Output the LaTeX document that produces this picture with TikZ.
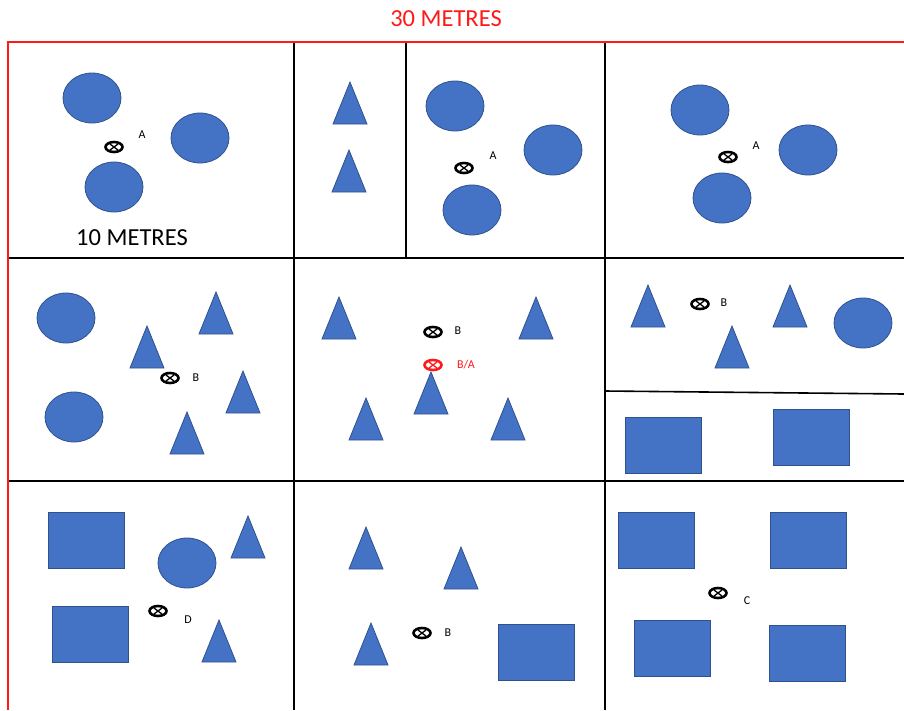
\documentclass[tikz,border=0pt]{standalone}
\usepackage{fontspec}
\setmainfont{Carlito}
\usepackage{tikz}

\definecolor{plotblue}{HTML}{4472C4}
\definecolor{plotedge}{HTML}{2F528F}
\definecolor{plotred}{HTML}{FF1A1A}

\tikzset{
    item/.style={fill=plotblue, draw=plotedge, line width=0.8pt},
    border/.style={plotred, line width=2.8pt},
    wall/.style={black, line width=1.6pt},
    marker/.style={line width=2.6pt},
    tag/.style={font=\fontsize{12}{12}\selectfont, inner sep=0pt},
    bigtext/.style={font=\fontsize{24.5}{24.5}\selectfont, inner sep=0pt}
}

\begin{document}
\begin{tikzpicture}[x=1pt, y=-1pt]

        \useasboundingbox (0,0) rectangle (904,710);

        % Draw grid
        \draw[wall] (294,42) -- (294,710);
        \draw[wall] (605,42) -- (605,710);
        \draw[wall] (406,42) -- (406,258);
        \draw[wall] (8,258) -- (904,258);
        \draw[wall] (8,481) -- (904,481);
        \draw[wall] (605,391) -- (904,394);

        % Outer edges (red)
        \draw[border] (8,710) -- (8,42) -- (904,42);

        % Scale labels
        \node[bigtext, text=plotred] (top) at (446,19) {30 METRES};
        \node[bigtext] (side) at (132,238) {10 METRES};

        % Circles
        \foreach \x/\y in {92/98, 200/138, 114/187, 455/106, 553/150, 472/210,
                           700/110, 808/150, 722/198, 66/318, 74/417, 863/323, 187/563}
            \filldraw[item] (\x,\y) ellipse (29 and 25);

        % Triangles
        \foreach \x/\y in {350/103, 349/171, 216/313, 147/347, 243/392, 187/433,
                           339/318, 536/318, 431/393, 366/419, 508/419,
                           648/306, 790/306, 732/347, 248/537, 219/641,
                           366/548, 461/568, 371/644}
            \filldraw[item] (\x-17,\y+21) -- (\x+17,\y+21) -- (\x,\y-21) -- cycle;

        % Rectangles
        \foreach \x/\y in {663/445, 811/437, 86/540, 90/634, 536/652,
                           656/540, 808/540, 672/648, 807/653}
            \filldraw[item] (\x-38,\y-28) rectangle (\x+38,\y+28);

        % Sampling points
        \foreach \x/\y/\lx/\ly/\l/\c [count=\i] in {114/147/142/135/A/black, 464/168/493/156/A/black,
                           728/157/756/146/A/black, 170/378/196/378/B/black,
                           433/332/458/331/B/black, 433/365/466/365/{B/A}/plotred,
                           700/304/724/303/B/black, 158/611/188/620/D/black,
                           422/633/448/633/B/black, 718/593/747/601/C/black}
        {
            \draw[marker, \c] (\x,\y) ellipse (8.5 and 5);
            \draw[\c, line width=1.3pt] (\x-4,\y-3) -- (\x+4,\y+3) (\x-4,\y+3) -- (\x+4,\y-3);
            \node[tag, text=\c] (p\i) at (\lx,\ly) {\l};
        }

    \end{tikzpicture}
\end{document}
